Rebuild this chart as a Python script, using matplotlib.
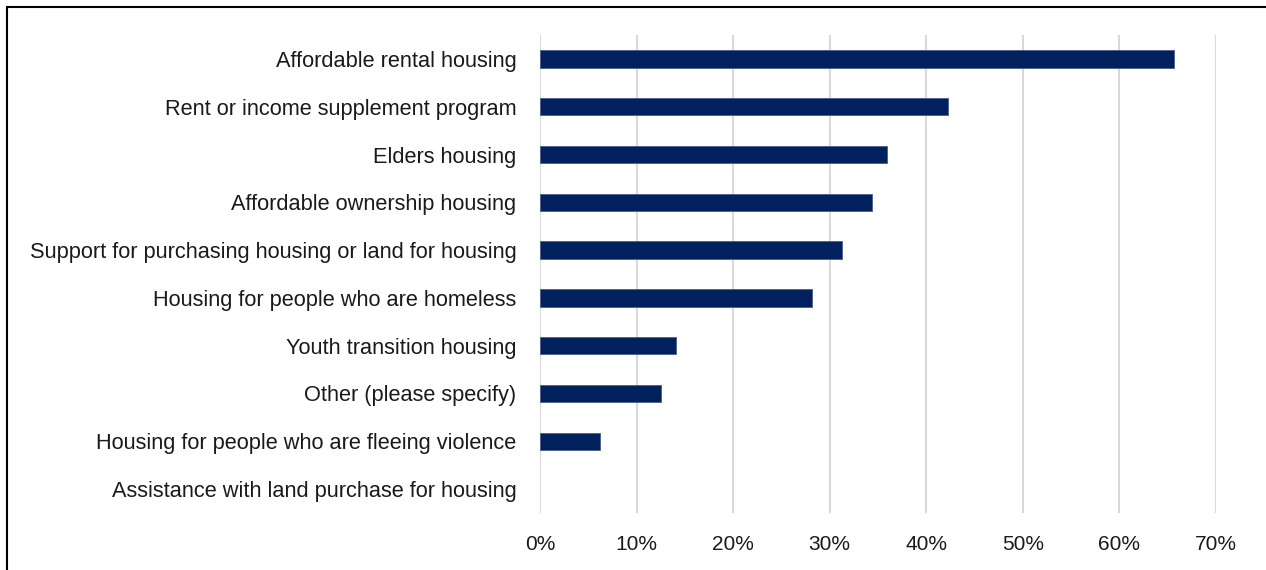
import matplotlib.pyplot as plt
from matplotlib.patches import Rectangle
from matplotlib.ticker import PercentFormatter

plt.rcParams['font.family'] = ['Liberation Sans', 'DejaVu Sans']

categories = [
    'Affordable rental housing',
    'Rent or income supplement program',
    'Elders housing',
    'Affordable ownership housing',
    'Support for purchasing housing or land for housing',
    'Housing for people who are homeless',
    'Youth transition housing',
    'Other (please specify)',
    'Housing for people who are fleeing violence',
    'Assistance with land purchase for housing',
]
values = [65.6, 42.2, 35.9, 34.4, 31.3, 28.2, 14.1, 12.5, 6.2, 0.0]

BAR = '#00215E'
GRID = '#D9D9D9'
TEXT = '#1A1A1A'

fig = plt.figure(figsize=(12.66, 5.70), dpi=100)
ax = fig.add_axes([540 / 1266, 1 - 513 / 570, (1216 - 540) / 1266, (513 - 35) / 570])

ypos = list(range(len(categories)))
ax.barh(ypos, values, height=0.36, color=BAR, edgecolor='#4A5F8C',
        linewidth=[0.6 if v > 0 else 0 for v in values], zorder=3)
ax.set_ylim(len(categories) - 0.5, -0.5)
ax.set_xlim(0, 70)
ax.set_xticks(range(0, 71, 10))
ax.xaxis.set_major_formatter(PercentFormatter(decimals=0))
ax.set_yticks(ypos)
ax.set_yticklabels(categories, fontsize=15.7)

ax.grid(axis='x', color=GRID, linewidth=1.5, zorder=0)
for s in ax.spines.values():
    s.set_visible(False)
ax.tick_params(axis='both', length=0, colors=TEXT)
ax.tick_params(axis='x', labelsize=15, pad=16)
ax.tick_params(axis='y', pad=17)

# outer frame of the original figure
fig.patches.append(Rectangle((7 / 1266, -0.1), 1.2, (1 - 7 / 570) + 0.1,
                             transform=fig.transFigure, fill=False,
                             edgecolor='black', linewidth=1.5))

fig.savefig('out.png', dpi=100, facecolor='white')
